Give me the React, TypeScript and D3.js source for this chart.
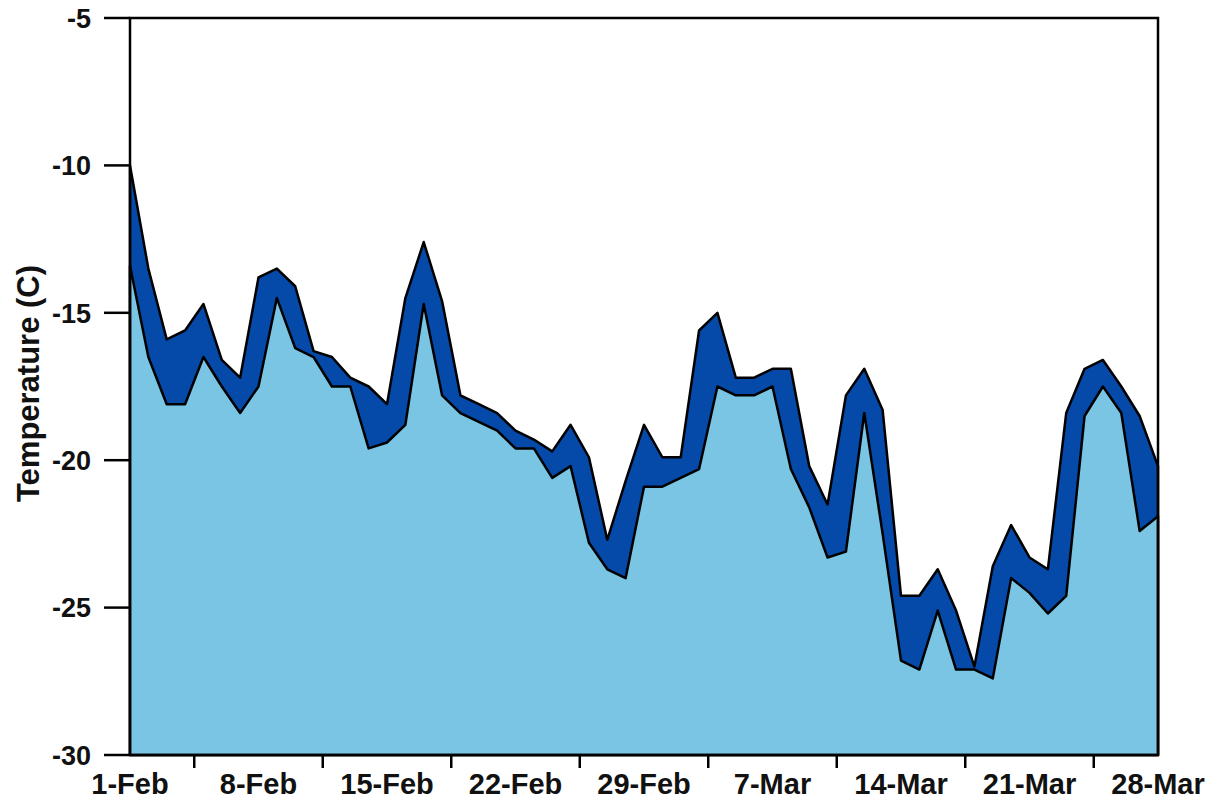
import React from "react";
import * as d3 from "d3";

// daily max / min temperature, 1-Feb .. 28-Mar (2008)
const startDate = new Date(2008, 1, 1);
const endDate = new Date(2008, 2, 29);
const days = d3.timeDay.range(startDate, endDate);

const maxTemp = [
  -10.0, -13.5, -15.9, -15.6, -14.7, -16.6, -17.2, -13.8, -13.5, -14.1,
  -16.3, -16.5, -17.2, -17.5, -18.1, -14.5, -12.6, -14.6, -17.8, -18.1,
  -18.4, -19.0, -19.3, -19.7, -18.8, -19.9, -22.7, -20.7, -18.8, -19.9,
  -19.9, -15.6, -15.0, -17.2, -17.2, -16.9, -16.9, -20.2, -21.5, -17.8,
  -16.9, -18.3, -24.6, -24.6, -23.7, -25.1, -27.0, -23.6, -22.2, -23.3,
  -23.7, -18.4, -16.9, -16.6, -17.5, -18.5, -20.2,
];

const minTemp = [
  -13.4, -16.5, -18.1, -18.1, -16.5, -17.5, -18.4, -17.5, -14.5, -16.2,
  -16.5, -17.5, -17.5, -19.6, -19.4, -18.8, -14.7, -17.8, -18.4, -18.7,
  -19.0, -19.6, -19.6, -20.6, -20.2, -22.8, -23.7, -24.0, -20.9, -20.9,
  -20.6, -20.3, -17.5, -17.8, -17.8, -17.5, -20.3, -21.6, -23.3, -23.1,
  -18.4, -22.5, -26.8, -27.1, -25.1, -27.1, -27.1, -27.4, -24.0, -24.5,
  -25.2, -24.6, -18.5, -17.5, -18.4, -22.4, -21.9,
];

const xTickLabels = ["1-Feb", "8-Feb", "15-Feb", "22-Feb", "29-Feb", "7-Mar", "14-Mar", "21-Mar", "28-Mar"];
const yTicks = [-5, -10, -15, -20, -25, -30];

const W = 1217;
const H = 803;
const left = 130;
const right = 1158;
const top = 18;
const bottom = 755;

const FONT = "Arial, 'Liberation Sans', Helvetica, sans-serif";

export default function App() {
  const x = d3.scaleTime().domain([startDate, days[days.length - 1]]).range([left, right]);
  const y = d3.scaleLinear().domain([-30, -5]).range([bottom, top]);

  const areaOf = (vals: number[]) =>
    d3
      .area<number>()
      .x((_, i) => x(days[i]))
      .y0(y(-30))
      .y1((v) => y(v))(vals) ?? "";

  // tick marks sit half way between the weekly labels
  const tickMarks = xTickLabels.slice(0, -1).map((_, k) => d3.timeHour.offset(days[k * 7], 84));

  return (
    <svg
      width={W}
      height={H}
      style={{ position: "absolute", left: 0, top: 0, background: "#fff" }}
      fontFamily={FONT}
    >
      <path d={areaOf(maxTemp)} fill="#0549a9" stroke="#000" strokeWidth={2.5} strokeLinejoin="round" />
      <path d={areaOf(minTemp)} fill="#79c5e3" stroke="#000" strokeWidth={2.5} strokeLinejoin="round" />

      <rect x={left} y={top} width={right - left} height={bottom - top} fill="none" stroke="#000" strokeWidth={2.5} />

      {yTicks.map((t) => (
        <g key={t}>
          <line x1={104} x2={left} y1={y(t)} y2={y(t)} stroke="#000" strokeWidth={2.5} />
          <text x={91} y={y(t)} dy="0.36em" textAnchor="end" fontSize={27} fontWeight="bold" fill="#111">
            {t}
          </text>
        </g>
      ))}

      {tickMarks.map((d, i) => (
        <line key={i} x1={x(d)} x2={x(d)} y1={bottom} y2={768} stroke="#000" strokeWidth={2.5} />
      ))}

      {xTickLabels.map((lab, k) => (
        <text key={lab} x={x(days[k * 7])} y={794} textAnchor="middle" fontSize={29} fontWeight="bold" fill="#111">
          {lab}
        </text>
      ))}

      <text
        transform={`translate(39,${(top + bottom) / 2 - 3}) rotate(-90)`}
        textAnchor="middle"
        fontSize={31}
        fontWeight="bold"
        fill="#111"
      >
        Temperature (C)
      </text>
    </svg>
  );
}
